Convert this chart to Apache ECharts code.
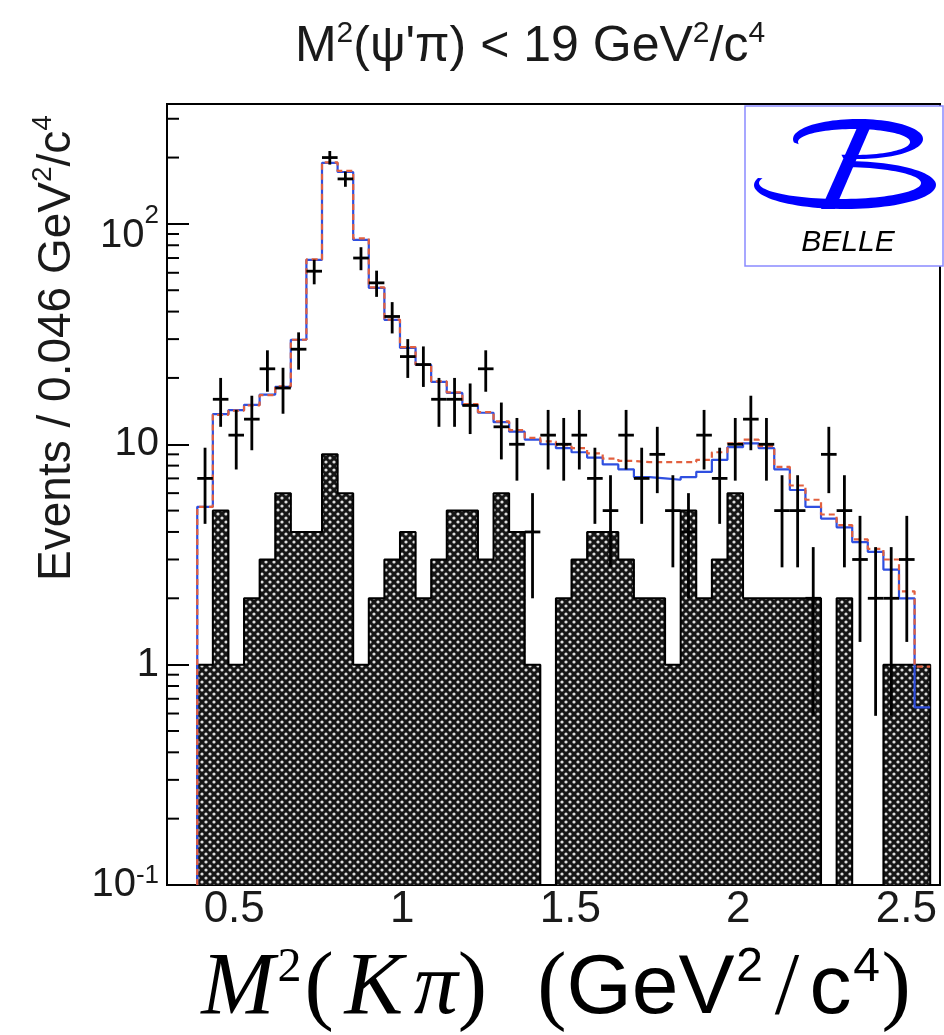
<!DOCTYPE html>
<html>
<head>
<meta charset="utf-8">
<script src="https://cdn.jsdelivr.net/npm/echarts@6/dist/echarts.min.js"></script>
<style>
  html, body { margin: 0; padding: 0; background: #ffffff; }
  #chart { width: 944px; height: 1035px; }
</style>
</head>
<body>
<div id="chart"></div>
<script>
// Binning of M^2(K pi): 47 bins
const BIN_LO = 0.39;
const BIN_W = 0.0464;
const X_MIN = 0.3, X_MAX = 2.6;
const Y_MIN = 0.1, Y_MAX = 350;

// Events per bin (data)
const dataCounts = [7, 16, 11, 13, 22, 18, 27, 61, 200, 160,
                    70, 54, 38, 25, 23, 16, 16, 15, 22, 12,
                    10, 4, 11, 10, 11, 7, 5, 11, 7, 9,
                    5, 4, 11, 7, 10, 13, 10, 5, 5, 2,
                    9, 5, 3, 2, 2, 3, 0];

// Sideband background per bin (hatched histogram)
const bkgCounts = [1, 5, 1, 2, 3, 6, 4, 4, 9, 6,
                   1, 2, 3, 4, 2, 3, 5, 5, 3, 6,
                   4, 1, 0, 2, 3, 4, 4, 3, 2, 2,
                   1, 5, 2, 3, 6, 2, 2, 2, 2, 2,
                   0, 2, 0, 0, 1, 1, 1];

// Fit projections (solid blue: with Z+, dashed red: without)
const fitSolid = [5.2, 13.7, 14.3, 15.1, 16.8, 18.2, 29.8, 68.7, 189, 172,
                  84.7, 51.3, 36.7, 27.4, 22.9, 19.2, 17.1, 15.1, 13.9, 12.6,
                  11.4, 10.5, 10.0, 9.6, 9.2, 8.7, 8.1, 7.7, 7.1, 7.0,
                  6.9, 7.1, 7.5, 8.5, 9.7, 10.1, 9.6, 7.7, 6.2, 5.2,
                  4.6, 4.2, 3.6, 3.25, 2.7, 2.0, 0.64];
const fitDashed = [5.2, 13.6, 14.2, 15.0, 16.7, 18.3, 29.8, 69, 190, 174,
                   86, 51.5, 36.8, 27.6, 23.0, 19.3, 17.2, 15.2, 14.0, 12.7,
                   11.6, 10.7, 10.3, 9.9, 9.6, 9.1, 8.6, 8.4, 8.3, 8.3,
                   8.3, 8.3, 8.5, 9.2, 10.1, 10.5, 9.8, 7.9, 6.5, 5.6,
                   4.8, 4.3, 3.7, 3.35, 3.0, 2.15, 0.98];

// Axis labels
const xTickValues = [0.5, 1, 1.5, 2, 2.5];
const yTickValues = [0.1, 1, 10, 100];
const yTickText = ['{d|10}{e|-1}', '{c|1}', '{c|10}', '{b|10}{s|2}'];
const yMinorTicks = [0.2, 0.3, 0.4, 0.5, 0.6, 0.7, 0.8, 0.9,
                     2, 3, 4, 5, 6, 7, 8, 9,
                     20, 30, 40, 50, 60, 70, 80, 90,
                     200, 300];

const TEXT = '#1a1a1a';
const SANS = 'Liberation Sans, Arial, Helvetica, sans-serif';
const SERIF = 'Liberation Serif, Times New Roman, serif';

const binLo = i => BIN_LO + i * BIN_W;
const binHi = i => BIN_LO + (i + 1) * BIN_W;

// Dotted hatch used by the background histogram
function dotTile() {
  const c = document.createElement('canvas');
  c.width = 8; c.height = 8;
  const g = c.getContext('2d');
  g.fillStyle = '#161616';
  g.fillRect(0, 0, 8, 8);
  g.fillStyle = '#dedede';
  [[2, 2], [6, 6]].forEach(([x, y]) => {
    g.beginPath(); g.arc(x, y, 1.6, 0, Math.PI * 2); g.fill();
  });
  return c;
}
const dotPattern = { image: dotTile(), repeat: 'repeat' };

// Step outline of a histogram, dropping to the axis floor where empty
function stepPoints(values, closeEnd) {
  const pts = [[binLo(0), Y_MIN]];
  values.forEach((v, i) => pts.push([binLo(i), Math.max(v, Y_MIN)]));
  const last = values.length - 1;
  pts.push([binHi(last), Math.max(values[last], Y_MIN)]);
  if (closeEnd) pts.push([binHi(last), Y_MIN]);
  return pts;
}

const bkgBins = bkgCounts.map((c, i) => [binLo(i), binHi(i), c]).filter(d => d[2] > 0);
// Poisson uncertainty on each data count
const dataPoints = dataCounts.map((c, i) => [binLo(i), binHi(i), c, Math.sqrt(c)]).filter(d => d[2] > 0);

// Blue "B" emblem of the collaboration box
function arcPts(cx, cy, rx, ry, a0, a1, n) {
  const p = [];
  for (let k = 0; k <= n; k++) {
    const a = a0 + (a1 - a0) * k / n;
    p.push([cx + rx * Math.cos(a), cy + ry * Math.sin(a)]);
  }
  return p;
}
function crescent(outer, inner, a0, a1) {
  const o = arcPts(outer[0], outer[1], outer[2], outer[3], a0, a1, 80);
  const i = arcPts(inner[0], inner[1], inner[2], inner[3], a1, a0, 80);
  return o.concat(i);
}
const deg = Math.PI / 180;
const upperLoop = crescent([858, 139, 65, 20], [854, 142, 56, 13], 170 * deg, 463 * deg);
const lowerLoop = crescent([845, 185, 91, 24], [840, 183, 81, 16], 270 * deg, 557 * deg);

const chart = echarts.init(document.getElementById('chart'), null, { renderer: 'canvas' });

chart.setOption({
  animation: false,
  backgroundColor: '#ffffff',
  grid: {
    left: 167, right: 4, top: 104, bottom: 150,
    show: true, borderColor: '#000', borderWidth: 2, backgroundColor: 'transparent'
  },
  xAxis: {
    type: 'value', min: X_MIN, max: X_MAX, interval: 0.1,
    axisLine: { show: true, lineStyle: { color: '#000', width: 2 } },
    axisTick: { show: false },
    splitLine: { show: false },
    axisLabel: {
      margin: 3, fontSize: 44, fontFamily: SANS, color: TEXT,
      formatter: v => {
        const hit = xTickValues.find(t => Math.abs(t - v) < 1e-6);
        return hit === undefined ? '' : String(hit);
      }
    }
  },
  yAxis: {
    type: 'log', logBase: 10, min: Y_MIN, max: Y_MAX,
    axisLine: { show: true, lineStyle: { color: '#000', width: 2 } },
    axisTick: { show: true, inside: true, length: 22, lineStyle: { color: '#000', width: 2 } },
    splitLine: { show: false },
    axisLabel: {
      margin: 8, showMaxLabel: false,
      formatter: v => {
        const i = yTickValues.findIndex(t => Math.abs(t - v) < t * 1e-6);
        return i < 0 ? '' : yTickText[i];
      },
      rich: {
        b: { fontSize: 40, height: 40, lineHeight: 64, verticalAlign: 'bottom', fontFamily: SANS, color: TEXT },
        s: { fontSize: 26, height: 48, lineHeight: 10, verticalAlign: 'top', fontFamily: SANS, color: TEXT },
        c: { fontSize: 40, lineHeight: 40, fontFamily: SANS, color: TEXT },
        d: { fontSize: 40, height: 40, lineHeight: 40, verticalAlign: 'bottom', fontFamily: SANS, color: TEXT },
        e: { fontSize: 26, height: 22, lineHeight: 10, verticalAlign: 'top', fontFamily: SANS, color: TEXT }
      }
    }
  },
  series: [
    {
      name: 'background',
      type: 'custom',
      z: 1,
      data: bkgBins,
      encode: { x: [0, 1], y: 2 },
      renderItem: (params, api) => {
        const a = api.coord([api.value(0), api.value(2)]);
        const b = api.coord([api.value(1), Y_MIN]);
        return {
          type: 'rect',
          shape: { x: a[0], y: a[1], width: b[0] - a[0] + 0.6, height: b[1] - a[1] },
          style: { fill: dotPattern, stroke: null }
        };
      }
    },
    {
      name: 'background outline',
      type: 'line', step: 'end', z: 2,
      data: stepPoints(bkgCounts, true),
      showSymbol: false, symbol: 'none',
      lineStyle: { color: '#000', width: 2 }
    },
    {
      name: 'fit',
      type: 'line', step: 'end', z: 3,
      data: stepPoints(fitSolid, false),
      showSymbol: false, symbol: 'none',
      lineStyle: { color: '#2f4fe0', width: 2.2 }
    },
    {
      name: 'fit without Z',
      type: 'line', step: 'end', z: 4,
      data: stepPoints(fitDashed, false),
      showSymbol: false, symbol: 'none',
      lineStyle: { color: '#e2603f', width: 2.2, type: [6, 4] }
    },
    {
      name: 'data',
      type: 'custom',
      z: 5,
      data: dataPoints,
      encode: { x: [0, 1], y: 2 },
      renderItem: (params, api) => {
        const lo = api.value(0), hi = api.value(1), n = api.value(2), e = api.value(3);
        const mid = (lo + hi) / 2;
        const pl = api.coord([lo, n]);
        const pr = api.coord([hi, n]);
        const pt = api.coord([mid, n + e]);
        const pb = api.coord([mid, Math.max(n - e, Y_MIN)]);
        const st = { stroke: '#000', lineWidth: 2.8 };
        return {
          type: 'group',
          children: [
            { type: 'line', shape: { x1: pt[0], y1: pt[1], x2: pb[0], y2: pb[1] }, style: st },
            { type: 'line', shape: { x1: pl[0], y1: pl[1], x2: pr[0], y2: pr[1] }, style: st }
          ]
        };
      }
    },
    {
      name: 'minor ticks',
      type: 'custom',
      z: 6,
      data: yMinorTicks.map(v => [X_MIN, v]),
      renderItem: (params, api) => {
        const p = api.coord([api.value(0), api.value(1)]);
        return {
          type: 'line',
          shape: { x1: p[0], y1: p[1], x2: p[0] + 12, y2: p[1] },
          style: { stroke: '#000', lineWidth: 2 }
        };
      }
    }
  ],
  graphic: [
    {
      type: 'text', x: 530, y: 47, z: 10,
      style: {
        text: "{t|M}{u|2}{t|(ψ'π) < 19 GeV}{u|2}{t|/c}{u|4}",
        align: 'center', verticalAlign: 'middle',
        rich: {
          t: { fontSize: 50, lineHeight: 52, fontFamily: SANS, fill: TEXT },
          u: { fontSize: 30, height: 26, lineHeight: 10, verticalAlign: 'top', fontFamily: SANS, fill: TEXT }
        }
      }
    },
    {
      type: 'text', x: 57, y: 348, rotation: Math.PI / 2, z: 10,
      style: {
        text: '{t|Events / 0.046 GeV}{u|2}{t|/c}{u|4}',
        align: 'center', verticalAlign: 'middle',
        rich: {
          t: { fontSize: 46, lineHeight: 48, fontFamily: SANS, fill: TEXT },
          u: { fontSize: 28, height: 20, lineHeight: 10, verticalAlign: 'top', fontFamily: SANS, fill: TEXT }
        }
      }
    },
    {
      type: 'text', x: 556, y: 990, z: 10,
      style: {
        text: '{mi|M}{sr|2}{rm|(}{mk|K}{mi|π}{rm|)}{gap| }{rm|(}{sf|GeV}{ss|2}{sl|/}{sf|c}{ss|4}{rm|)}',
        align: 'center', verticalAlign: 'middle',
        rich: {
          mi: { fontSize: 88, lineHeight: 90, fontFamily: SERIF, fontStyle: 'italic', fill: '#000' },
          mk: { fontSize: 88, lineHeight: 90, width: 80, align: 'center', fontFamily: SERIF, fontStyle: 'italic', fill: '#000' },
          rm: { fontSize: 88, lineHeight: 90, fontFamily: SERIF, fill: '#000' },
          sl: { fontSize: 88, lineHeight: 90, width: 45, align: 'center', fontFamily: SERIF, fill: '#000' },
          gap: { fontSize: 20, lineHeight: 20, width: 50 },
          sr: { fontSize: 48, width: 30, height: 46, lineHeight: 10, verticalAlign: 'top', fontFamily: SERIF, fill: '#000' },
          sf: { fontSize: 84, lineHeight: 90, fontFamily: SANS, fill: '#000' },
          ss: { fontSize: 48, width: 30, height: 46, lineHeight: 10, verticalAlign: 'top', fontFamily: SANS, fill: '#000' }
        }
      }
    },
    {
      type: 'rect', z: 10,
      shape: { x: 745, y: 106, width: 198, height: 160 },
      style: { fill: '#ffffff', stroke: '#8a8aff', lineWidth: 1.5 }
    },
    { type: 'polygon', z: 11, shape: { points: upperLoop }, style: { fill: '#0000ff' } },
    { type: 'polygon', z: 11, shape: { points: lowerLoop }, style: { fill: '#0000ff' } },
    {
      type: 'polygon', z: 11,
      shape: { points: [[860, 121], [873, 121], [835, 209], [821, 209]] },
      style: { fill: '#0000ff' }
    },
    {
      type: 'text', x: 848, y: 243, z: 11,
      style: {
        text: 'BELLE', align: 'center', verticalAlign: 'middle',
        font: 'italic 30px ' + SANS, fill: '#000'
      }
    }
  ]
});
</script>
</body>
</html>
